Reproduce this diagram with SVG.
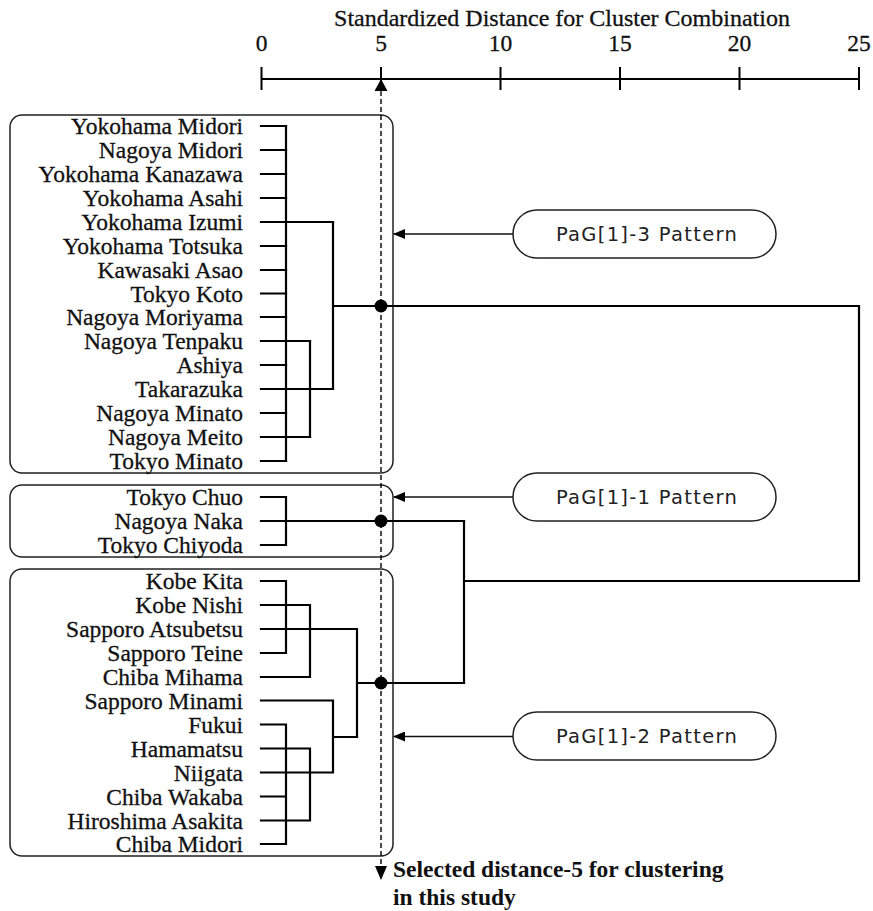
<svg xmlns="http://www.w3.org/2000/svg" width="873" height="911" viewBox="0 0 873 911">
<style>
text{font-family:"Liberation Serif","Times New Roman",serif;font-size:23.5px;fill:#111;stroke:#111;stroke-width:0.3}
.lbl{text-anchor:end}
.num{text-anchor:middle}
.pilltxt{font-family:"DejaVu Sans","Noto Sans",sans-serif;font-size:19.5px;text-anchor:middle;fill:#222;stroke:none;letter-spacing:1.3px}
.bold{font-weight:bold;stroke:none}
.box{fill:none;stroke:#222;stroke-width:1.5}
.pill{fill:#fff;stroke:#222;stroke-width:1.5}
.den{fill:none;stroke:#000;stroke-width:2.2;stroke-linecap:square}
.axis{fill:none;stroke:#000;stroke-width:2}
.ptr{fill:none;stroke:#111;stroke-width:1.5}
.cut{fill:none;stroke:#000;stroke-width:1.4;stroke-dasharray:5,3}
</style>
<defs>
<marker id="ah" markerWidth="12" markerHeight="10" refX="11" refY="5" orient="auto" markerUnits="userSpaceOnUse">
<path d="M0,0 L12,5 L0,10 Z" fill="#000"/>
</marker>
</defs>

<g id="axis">
<text class="num" x="562" y="26" style="font-size:24px">Standardized Distance for Cluster Combination</text>
<text class="num" x="261.5" y="51">0</text>
<text class="num" x="381" y="51">5</text>
<text class="num" x="500.5" y="51">10</text>
<text class="num" x="620" y="51">15</text>
<text class="num" x="739.5" y="51">20</text>
<text class="num" x="859" y="51">25</text>
<path class="axis" d="M261.5,79 H859 M261.5,67 V90 M381,67 V90 M500.5,67 V90 M620,67 V90 M739.5,67 V90 M859,67 V90"/>
</g>

<g id="cluster-pag1-3">
<rect class="box" x="10" y="115" width="383" height="358" rx="12"/>
<text class="lbl" x="243" y="134">Yokohama Midori</text>
<text class="lbl" x="243" y="158">Nagoya Midori</text>
<text class="lbl" x="243" y="182">Yokohama Kanazawa</text>
<text class="lbl" x="243" y="206">Yokohama Asahi</text>
<text class="lbl" x="243" y="230">Yokohama Izumi</text>
<text class="lbl" x="243" y="254">Yokohama Totsuka</text>
<text class="lbl" x="243" y="278">Kawasaki Asao</text>
<text class="lbl" x="243" y="301.5">Tokyo Koto</text>
<text class="lbl" x="243" y="325">Nagoya Moriyama</text>
<text class="lbl" x="243" y="349">Nagoya Tenpaku</text>
<text class="lbl" x="243" y="373">Ashiya</text>
<text class="lbl" x="243" y="397">Takarazuka</text>
<text class="lbl" x="243" y="421">Nagoya Minato</text>
<text class="lbl" x="243" y="445">Nagoya Meito</text>
<text class="lbl" x="243" y="469">Tokyo Minato</text>
</g>

<g id="cluster-pag1-1">
<rect class="box" x="10" y="485" width="383" height="72" rx="12"/>
<text class="lbl" x="243" y="505">Tokyo Chuo</text>
<text class="lbl" x="243" y="529">Nagoya Naka</text>
<text class="lbl" x="243" y="553">Tokyo Chiyoda</text>
</g>

<g id="cluster-pag1-2">
<rect class="box" x="10" y="569" width="383" height="287" rx="12"/>
<text class="lbl" x="243" y="589">Kobe Kita</text>
<text class="lbl" x="243" y="613">Kobe Nishi</text>
<text class="lbl" x="243" y="637">Sapporo Atsubetsu</text>
<text class="lbl" x="243" y="661">Sapporo Teine</text>
<text class="lbl" x="243" y="685">Chiba Mihama</text>
<text class="lbl" x="243" y="708.5">Sapporo Minami</text>
<text class="lbl" x="243" y="732.5">Fukui</text>
<text class="lbl" x="243" y="756.5">Hamamatsu</text>
<text class="lbl" x="243" y="780.5">Niigata</text>
<text class="lbl" x="243" y="804.5">Chiba Wakaba</text>
<text class="lbl" x="243" y="828.5">Hiroshima Asakita</text>
<text class="lbl" x="243" y="852">Chiba Midori</text>
</g>

<g id="pill-pag1-3">
<rect class="pill" x="513" y="210" width="263" height="48" rx="24"/>
<text class="pilltxt" x="647" y="241">PaG[1]-3 Pattern</text>
</g>
<g id="pill-pag1-1">
<rect class="pill" x="513" y="473" width="263" height="48" rx="24"/>
<text class="pilltxt" x="647" y="504">PaG[1]-1 Pattern</text>
</g>
<g id="pill-pag1-2">
<rect class="pill" x="513" y="712" width="263" height="48" rx="24"/>
<text class="pilltxt" x="647" y="743">PaG[1]-2 Pattern</text>
</g>

<g id="connectors">
<path class="den" d="M261,126 H286 M261,150 H286 M261,174 H286 M261,198 H286 M261,222 H333 M261,246 H286 M261,270 H286 M261,293.5 H286 M261,317 H286 M261,341 H310 M261,365 H286 M261,389 H333 M261,413 H286 M261,437 H310 M261,461 H286"/>
<path class="den" d="M286,126 V461 M310,341 V437 M333,222 V389 M333,306 H859 V581 H464 M464,521 V683"/>
<path class="den" d="M261,497 H286 M261,521 H464 M261,545 H286 M286,497 V545"/>
<path class="den" d="M261,581 H286 M261,605 H310 M261,629 H357 M261,653 H286 M261,677 H310 M286,581 V653 M310,605 V677 M357,629 V737 M357,683 H464"/>
<path class="den" d="M261,700.5 H333 M261,724.5 H286 M261,748.5 H310 M261,772.5 H333 M261,796.5 H286 M261,820.5 H310 M261,844 H286 M286,724.5 V844 M310,748.5 V820.5 M333,700.5 V772.5 M333,737 H357"/>
<path class="cut" d="M381,91 V867"/>
<path d="M381,79 L374.5,91 L387.5,91 Z" fill="#000"/>
<path d="M375,866 L387,866 L381,880 Z" fill="#000"/>
<circle cx="381" cy="306" r="6.5" fill="#000"/>
<circle cx="381" cy="521" r="6.5" fill="#000"/>
<circle cx="381" cy="683" r="6.5" fill="#000"/>
<path class="ptr" d="M513,234 H394" marker-end="url(#ah)"/>
<path class="ptr" d="M513,497 H394" marker-end="url(#ah)"/>
<path class="ptr" d="M513,736.5 H394" marker-end="url(#ah)"/>
</g>

<g id="annotation">
<text class="bold" x="393" y="877">Selected distance-5 for clustering</text>
<text class="bold" x="393" y="905">in this study</text>
</g>
</svg>
